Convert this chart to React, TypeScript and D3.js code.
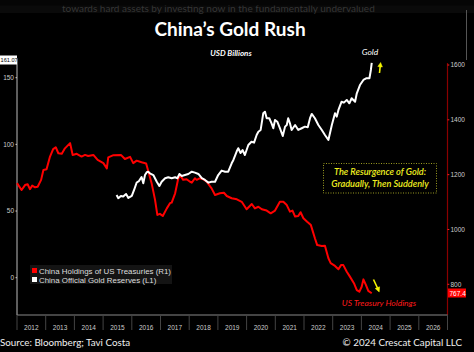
import React from "react";
import * as d3 from "d3";

// China Holdings of US Treasuries (right axis, USD bn)
const treasuryDates = [2012.0,2012.16,2012.28,2012.37,2012.45,2012.53,2012.63,2012.72,2012.84,2012.92,2013.03,2013.15,2013.26,2013.35,2013.44,2013.56,2013.67,2013.85,2013.94,2014.08,2014.25,2014.37,2014.48,2014.66,2014.81,2015.01,2015.13,2015.18,2015.36,2015.62,2015.76,2015.94,2016.05,2016.17,2016.34,2016.5,2016.69,2016.81,2016.89,2016.98,2017.08,2017.22,2017.33,2017.39,2017.51,2017.62,2017.7,2017.79,2017.91,2018.03,2018.09,2018.2,2018.26,2018.38,2018.49,2018.61,2018.78,2018.9,2019.07,2019.21,2019.31,2019.48,2019.66,2019.83,2020.0,2020.18,2020.29,2020.41,2020.53,2020.7,2020.84,2020.99,2021.16,2021.28,2021.4,2021.51,2021.6,2021.69,2021.8,2021.88,2021.98,2022.11,2022.24,2022.38,2022.46,2022.62,2022.73,2022.85,2022.93,2023.08,2023.2,2023.29,2023.37,2023.49,2023.6,2023.74,2023.84,2023.93,2024.01,2024.07,2024.16,2024.24,2024.36];
const treasuryValues = [1169,1144,1162,1165,1147,1160,1154,1156,1181,1217,1220,1266,1293,1300,1278,1276,1296,1315,1272,1276,1266,1272,1268,1272,1254,1242,1223,1263,1271,1272,1257,1265,1242,1251,1245,1241,1169,1108,1053,1057,1049,1077,1096,1098,1132,1187,1195,1181,1183,1174,1171,1187,1181,1187,1183,1174,1150,1126,1132,1134,1122,1114,1110,1101,1074,1093,1077,1083,1074,1069,1059,1069,1101,1101,1089,1065,1069,1047,1049,1063,1041,1028,1016,968,943,940,941,895,877,867,855,870,870,846,828,804,779,773,791,818,797,776,767.4];

// China Official Gold Reserves (left axis, USD bn)
const goldDates = [2015.47,2015.53,2015.62,2015.7,2015.8,2015.88,2016.0,2016.09,2016.17,2016.25,2016.34,2016.4,2016.46,2016.52,2016.57,2016.63,2016.75,2016.87,2016.96,2017.04,2017.16,2017.27,2017.39,2017.51,2017.59,2017.66,2017.74,2017.85,2017.97,2018.09,2018.2,2018.32,2018.44,2018.55,2018.67,2018.78,2018.9,2019.01,2019.13,2019.25,2019.36,2019.48,2019.54,2019.66,2019.71,2019.79,2019.86,2019.94,2020.06,2020.17,2020.26,2020.35,2020.41,2020.49,2020.58,2020.64,2020.7,2020.79,2020.87,2020.93,2020.99,2021.07,2021.16,2021.26,2021.34,2021.4,2021.45,2021.51,2021.57,2021.69,2021.8,2021.92,2022.03,2022.13,2022.21,2022.27,2022.38,2022.5,2022.62,2022.73,2022.85,2022.97,2023.08,2023.14,2023.2,2023.31,2023.39,2023.49,2023.58,2023.66,2023.78,2023.84,2023.95,2024.07,2024.18,2024.28,2024.33,2024.36];
const goldValues = [62.0,59.6,61.3,60.9,62.8,59.8,61.3,66.5,71.4,72.5,75.5,70.8,77.0,79.1,79.5,78.3,77.0,72.0,68.8,72.0,74.6,75.3,74.6,75.3,74.6,77.8,76.3,77.0,77.8,79.5,78.8,77.8,74.6,73.3,71.3,72.0,72.0,77.0,80.3,79.5,79.5,85.8,88.3,95.0,97.1,93.5,95.8,92.0,99.5,102.0,101.3,107.0,109.5,110.8,123.3,124.5,119.6,119.6,115.8,112.1,118.3,117.0,112.1,106.3,113.3,114.5,119.6,115.8,110.8,114.5,110.8,112.1,113.3,112.8,119.6,122.8,119.6,114.5,110.8,107.0,103.3,114.5,123.3,120.8,125.8,132.0,131.3,133.3,130.8,134.6,132.0,138.3,144.5,148.3,149.6,149.6,155.8,161.07];

const yearLabels = ["2012","2013","2014","2015","2016","2017","2018","2019","2020","2021","2022","2023","2024","2025","2026"];
const leftTicks = [0, 50, 100, 150];
const rightTicks = [800, 1000, 1200, 1400, 1600];
const legendLabels = ["China Holdings of US Treasuries (R1)", "China Official Gold Reserves (L1)"];
const lastGoldLabel = "161.07";
const lastTreasuryLabel = "767.4";

export default function App() {
  const W = 474, H = 352;
  const left = 17, right = 447.5, top = 58, bottom = 315;
  const x = d3.scaleLinear().domain([2012, 2027]).range([left, right]);
  const yL = d3.scaleLinear().domain([0, 150]).range([277.7, 77.7]);
  const yR = d3.scaleLinear().domain([800, 1600]).range([284.3, 65]);

  const tData = treasuryDates.map((d, i) => [d, treasuryValues[i]] as [number, number]);
  const gData = goldDates.map((d, i) => [d, goldValues[i]] as [number, number]);
  const tLine = d3.line<[number, number]>().x(d => x(d[0])).y(d => yR(d[1]))(tData) || "";
  const gLine = d3.line<[number, number]>().x(d => x(d[0])).y(d => yL(d[1]))(gData) || "";

  const years = d3.range(2012, 2028);
  const sans = "Lato, 'Open Sans', sans-serif";
  const axisFont = "'Liberation Sans', Arial, sans-serif";

  return (
    <svg width={W} height={H} style={{ position: "absolute", left: 0, top: 0, display: "block", background: "#000" }}>
      <rect x={0} y={0} width={W} height={H} fill="#000" />
      {/* faded cut-off text above */}
      <rect x={0} y={0} width={W} height={13} fill="#0a0a0a" />
      <text x={62} y={11.5} fontFamily={sans} fontSize={10} fill="#363636">towards hard assets by investing now in the fundamentally undervalued</text>
      <rect x={0} y={0} width={W} height={5.5} fill="#050505" />
      <line x1={466.5} x2={466.5} y1={10} y2={60} stroke="#555" strokeWidth={1} />

      {/* titles */}
      <text x={230} y={36} textAnchor="middle" fontFamily={sans} fontWeight={700} fontSize={19} fill="#fff">China’s Gold Rush</text>
      <text x={231} y={56} textAnchor="middle" fontFamily={sans} fontWeight={700} fontStyle="italic" fontSize={8} fill="#fff">USD Billions</text>
      <text x={370} y={55} textAnchor="middle" fontFamily={sans} fontStyle="italic" fontSize={8.5} fill="#fff">Gold</text>

      {/* axes */}
      <line x1={left} x2={left} y1={top} y2={bottom} stroke="#bbb" strokeWidth={1} />
      <line x1={right} x2={right} y1={63} y2={bottom} stroke="#8a0000" strokeWidth={1.2} />
      <line x1={left} x2={right} y1={bottom} y2={bottom} stroke="#888" strokeWidth={1} />
      {years.map(yr => (
        <line key={yr} x1={x(yr)} x2={x(yr)} y1={bottom} y2={330} stroke="#444" strokeWidth={1} />
      ))}
      {yearLabels.map((lab, i) => (
        <text key={lab} x={x(2012 + i + 0.5)} y={330} textAnchor="middle" fontFamily={axisFont} fontSize={6.5} fill="#ccc">{lab}</text>
      ))}
      {leftTicks.map(t => (
        <g key={t}>
          <line x1={left - 1.5} x2={left} y1={yL(t)} y2={yL(t)} stroke="#ccc" />
          <text x={left - 3} y={yL(t) + 2.3} textAnchor="end" fontFamily={axisFont} fontSize={6.5} fill="#ccc">{t}</text>
        </g>
      ))}
      {rightTicks.map(t => (
        <g key={t}>
          <line x1={right} x2={right + 1.8} y1={yR(t)} y2={yR(t)} stroke="#ff2020" />
          <text x={right + 3} y={yR(t) + 2.3} fontFamily={axisFont} fontSize={6.5} fill="#ccc">{t}</text>
        </g>
      ))}

      {/* last value labels */}
      <rect x={0} y={55.5} width={17} height={9} fill="#fff" />
      <text x={0.6} y={62.3} fontFamily={axisFont} fontSize={5.6} fill="#000">{lastGoldLabel}</text>
      <rect x={right + 0.5} y={288.5} width={18} height={9} fill="#ff0000" />
      <text x={right + 2} y={295.6} fontFamily={axisFont} fontSize={6.5} fill="#fff">{lastTreasuryLabel}</text>

      {/* lines */}
      <path d={tLine} fill="none" stroke="#ff0000" strokeWidth={2} strokeLinejoin="round" />
      <path d={gLine} fill="none" stroke="#ffffff" strokeWidth={2} strokeLinejoin="round" />

      {/* legend */}
      <rect x={30} y={265} width={142} height={19} fill="#141414" />
      <rect x={32} y={268} width={5} height={5} fill="#ff0000" />
      <text x={39} y={273.5} fontFamily={axisFont} fontSize={7.9} fill="#ddd">{legendLabels[0]}</text>
      <rect x={32} y={277} width={5} height={5} fill="#ffffff" />
      <text x={39} y={282.5} fontFamily={axisFont} fontSize={7.9} fill="#ddd">{legendLabels[1]}</text>

      {/* annotation */}
      <rect x={323.5} y={163.5} width={113} height={29.5} fill="none" stroke="#9a9a20" strokeWidth={1} strokeDasharray="1,1.5" />
      <text x={380} y={174.5} textAnchor="middle" fontFamily={sans} fontStyle="italic" fontWeight={600} fontSize={9.2} fill="#f0f020">The Resurgence of Gold:</text>
      <text x={380} y={186.5} textAnchor="middle" fontFamily={sans} fontStyle="italic" fontWeight={600} fontSize={9.2} fill="#f0f020">Gradually, Then Suddenly</text>

      <text x={379} y={306} textAnchor="middle" fontFamily={sans} fontStyle="italic" fontSize={8.5} fill="#ff1a1a">US Treasury Holdings</text>

      {/* arrows */}
      <g stroke="#f5f500" strokeWidth={1.6} fill="#f5f500">
        <line x1={379.5} y1={73} x2={380.3} y2={65.5} />
        <path d="M377.8,66.5 L380.6,62.5 L382.4,67 Z" strokeWidth={0.5} />
        <line x1={373.5} y1={279.5} x2={377.5} y2={288} />
        <path d="M375.2,288.5 L379.2,292 L379.6,286.8 Z" strokeWidth={0.5} />
      </g>

      {/* footer */}
      <text x={0} y={346} fontFamily={sans} fontSize={9.8} fill="#f0f0f0">Source: Bloomberg; Tavi Costa</text>
      <text x={462} y={346} textAnchor="end" fontFamily={sans} fontSize={9.8} fill="#f0f0f0">© 2024 Crescat Capital LLC</text>
    </svg>
  );
}
